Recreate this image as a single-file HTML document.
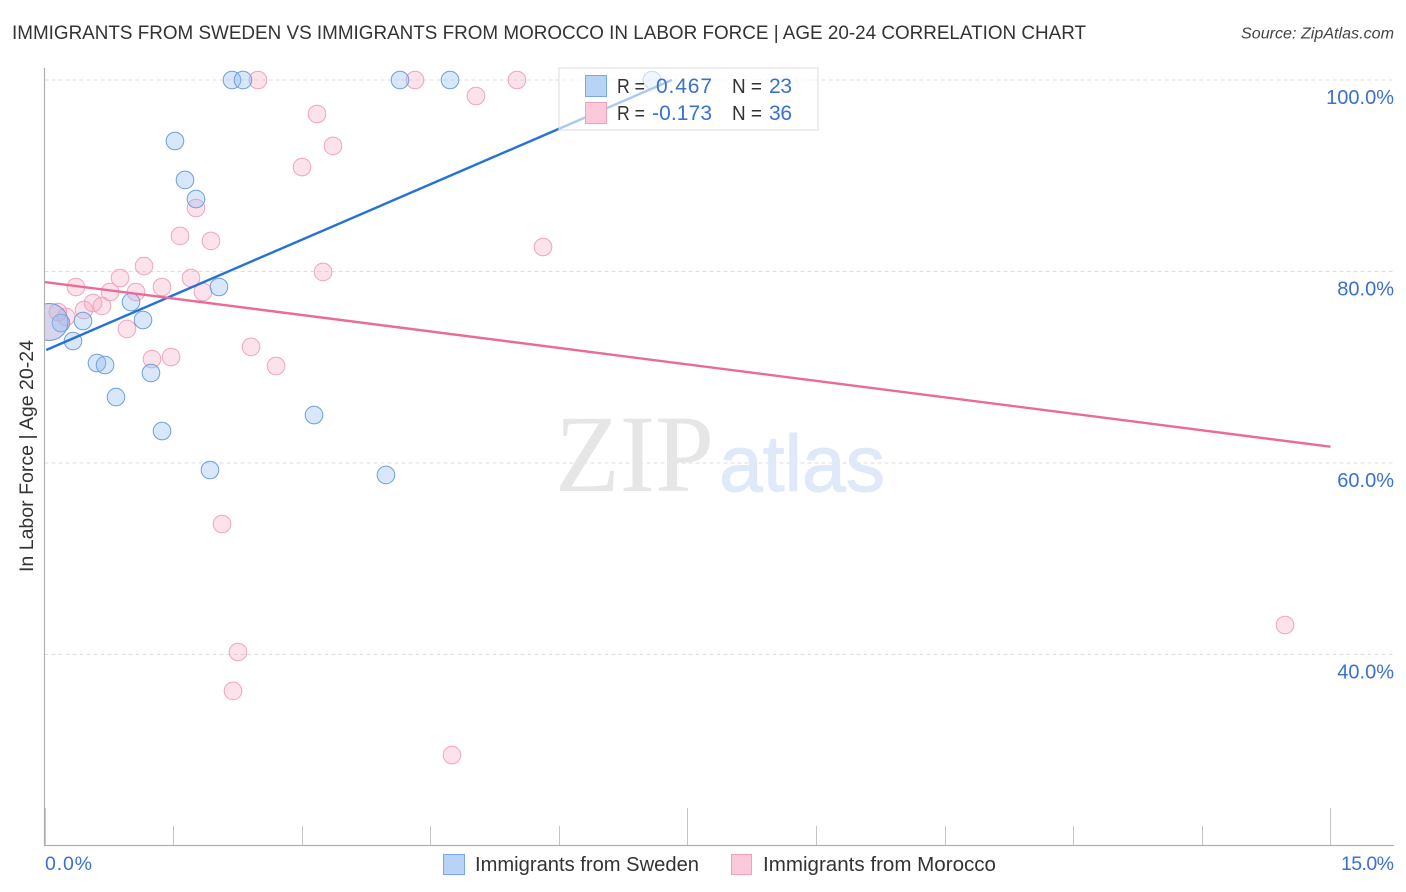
<!DOCTYPE html>
<html lang="en">
<head>
<meta charset="utf-8">
<title>Immigrants from Sweden vs Immigrants from Morocco correlation chart</title>
<style>
html,body{margin:0;padding:0;background:#fff;width:1406px;height:892px;overflow:hidden}
svg{display:block}
text{font-family:"Liberation Sans",sans-serif}
</style>
</head>
<body>
<svg id="chart" width="1406" height="892" viewBox="0 0 1406 892" xmlns="http://www.w3.org/2000/svg">
  <defs><clipPath id="plot-clip"><rect x="44.5" y="60" width="1350" height="785.5"/></clipPath></defs>
  <text x="12" y="39" font-size="19.5" fill="#333" textLength="1074" lengthAdjust="spacingAndGlyphs">IMMIGRANTS FROM SWEDEN VS IMMIGRANTS FROM MOROCCO IN LABOR FORCE | AGE 20-24 CORRELATION CHART</text>
  <text x="1241" y="38.5" font-size="15.5" font-style="italic" fill="#444" textLength="153" lengthAdjust="spacingAndGlyphs">Source: ZipAtlas.com</text>
  <g id="grid"></g>
  <g>
    <text x="555" y="491" font-size="110" fill="#e6e6e6" style="font-family:'Liberation Serif',serif" textLength="159" lengthAdjust="spacingAndGlyphs">ZIP</text>
    <text x="719" y="491" font-size="80" fill="#dfe9f9" stroke="#dfe9f9" stroke-width="1" textLength="166" lengthAdjust="spacingAndGlyphs">atlas</text>
  </g>
  <g id="points" clip-path="url(#plot-clip)"></g>
  <g id="trends"></g>
  <g id="axes"></g>
  <text transform="translate(33,456) rotate(-90)" font-size="19" fill="#333" text-anchor="middle" textLength="232" lengthAdjust="spacingAndGlyphs">In Labor Force | Age 20-24</text>
  <g>
    <rect x="559" y="68" width="259" height="62" fill="#fff" fill-opacity="0.62" stroke="#dcdcdc" stroke-width="1"/>
    <rect x="585.5" y="75.5" width="21" height="21" fill="#b9d3f7" stroke="#78a8e8"/>
    <rect x="585.5" y="102.5" width="21" height="21" fill="#fbc9d9" stroke="#f4a0bb"/>
    <text x="617" y="93" font-size="20" fill="#333" textLength="28" lengthAdjust="spacingAndGlyphs">R =</text>
    <text x="656" y="93" font-size="21" fill="#3a70cf" textLength="56">0.467</text>
    <text x="732" y="93" font-size="20" fill="#333" textLength="30" lengthAdjust="spacingAndGlyphs">N =</text>
    <text x="769" y="93" font-size="21" fill="#3a70cf" textLength="23">23</text>
    <text x="617" y="120" font-size="20" fill="#333" textLength="28" lengthAdjust="spacingAndGlyphs">R =</text>
    <text x="652" y="120" font-size="21" fill="#3a70cf" textLength="60">-0.173</text>
    <text x="732" y="120" font-size="20" fill="#333" textLength="30" lengthAdjust="spacingAndGlyphs">N =</text>
    <text x="769" y="120" font-size="21" fill="#3a70cf" textLength="23">36</text>
  </g>
  <g>
    <rect x="443.5" y="854.5" width="21" height="20" fill="#b9d3f7" stroke="#78a8e8"/>
    <text x="475" y="871" font-size="20" fill="#333" textLength="224" lengthAdjust="spacingAndGlyphs">Immigrants from Sweden</text>
    <rect x="731.5" y="854.5" width="20" height="20" fill="#fbc9d9" stroke="#f4a0bb"/>
    <text x="763" y="871" font-size="20" fill="#333" textLength="233" lengthAdjust="spacingAndGlyphs">Immigrants from Morocco</text>
  </g>
</svg>
<script>
const xTickValues = [0, 1.5, 3, 4.5, 6, 7.5, 9, 10.5, 12, 13.5, 15];
const xMajorTicks = [0, 7.5, 15];
const xLabelValues = ['0.0%', '15.0%'];
const yTickValues = [100, 80, 60, 40];
const yTickLabels = ['100.0%', '80.0%', '60.0%', '40.0%'];

const swedenX = [2.187, 2.315, 4.147, 4.730, 7.086, 1.522, 1.639, 1.767, 2.035, 1.009, 1.149, 0.449, 0.192, 0.332, 0.612, 0.706, 1.242, 0.834, 1.371, 1.930, 3.144, 3.983, 0.058];
const swedenY = [100, 100, 100, 100, 100, 93.63, 89.56, 87.57, 78.38, 76.81, 74.93, 74.83, 74.62, 72.74, 70.44, 70.23, 69.40, 66.89, 63.34, 59.27, 65.01, 58.75, 74.73];
const swedenWeight = [1, 1, 1, 1, 1, 1, 1, 1, 1, 1, 1, 1, 1, 1, 1, 1, 1, 1, 1, 1, 1, 1, 2.1];

const moroccoX = [2.490, 4.322, 5.511, 5.033, 3.179, 3.365, 3.004, 1.767, 1.581, 1.942, 5.815, 1.161, 3.249, 0.881, 1.709, 0.367, 1.371, 0.764, 1.067, 1.849, 0.566, 0.671, 0.461, 0.157, 0.251, 0.962, 2.409, 1.254, 1.476, 2.701, 2.071, 2.257, 2.199, 4.753, 14.470, 0.058];
const moroccoY = [100, 100, 100, 98.33, 96.45, 93.11, 90.91, 86.63, 83.71, 83.19, 82.56, 80.57, 79.95, 79.32, 79.32, 78.38, 78.38, 77.86, 77.86, 77.86, 76.71, 76.40, 75.98, 75.77, 75.25, 74.00, 72.12, 70.86, 71.07, 70.13, 53.63, 40.26, 36.19, 29.50, 43.08, 74.73];
const moroccoWeight = [1, 1, 1, 1, 1, 1, 1, 1, 1, 1, 1, 1, 1, 1, 1, 1, 1, 1, 1, 1, 1, 1, 1, 1, 1, 1, 1, 1, 1, 1, 1, 1, 1, 1, 1, 2.1];

const swedenTrendX = [0.02, 7.32];
const swedenTrendY = [71.8, 100];
const moroccoTrendX = [0, 15];
const moroccoTrendY = [78.9, 61.7];

function xScale(v) { return 44.5 + v * 85.73; }
function yScale(v) { return 80 + (100 - v) * 9.575; }
function rScale(w) { return 8.8 * w; }

const NS = 'http://www.w3.org/2000/svg';
function make(tag, attrs, parent) {
  const el = document.createElementNS(NS, tag);
  for (const k in attrs) el.setAttribute(k, attrs[k]);
  parent.appendChild(el);
  return el;
}

const grid = document.getElementById('grid');
yTickValues.forEach(function (v) {
  const l = make('line', {x1: 44.5, x2: 1394, y1: yScale(v), y2: yScale(v), stroke: '#dedede', 'stroke-width': 1, 'stroke-dasharray': '4 3'}, grid);
  
  
});

const points = document.getElementById('points');
moroccoX.forEach(function (x, i) {
  const c = make('circle', {cx: xScale(x), cy: yScale(moroccoY[i]), r: rScale(moroccoWeight[i]), fill: '#f7a8c2', 'fill-opacity': 0.32, stroke: '#f2a3bd', 'stroke-width': 1}, points);
  
  
});
swedenX.forEach(function (x, i) {
  const c = make('circle', {cx: xScale(x), cy: yScale(swedenY[i]), r: rScale(swedenWeight[i]), fill: '#93bcf0', 'fill-opacity': 0.36, stroke: '#6c9fe0', 'stroke-width': 1}, points);
  
  
});

const trends = document.getElementById('trends');
const t1 = make('line', {x1: xScale(swedenTrendX[0]), y1: yScale(swedenTrendY[0]), x2: xScale(swedenTrendX[1]), y2: yScale(swedenTrendY[1]), stroke: '#2471d8', 'stroke-width': 2.4}, trends);


const t2 = make('line', {x1: xScale(moroccoTrendX[0]), y1: yScale(moroccoTrendY[0]), x2: xScale(moroccoTrendX[1]), y2: yScale(moroccoTrendY[1]), stroke: '#ea6a9a', 'stroke-width': 2.4}, trends);



const axes = document.getElementById('axes');
const yAxis = make('line', {x1: 44.5, x2: 44.5, y1: 68, y2: 846, stroke: '#b0b0b0', 'stroke-width': 1.2}, axes);


const xAxis = make('line', {x1: 44, x2: 1394, y1: 845.5, y2: 845.5, stroke: '#b0b0b0', 'stroke-width': 1.2}, axes);


xTickValues.forEach(function (v) {
  const top = xMajorTicks.indexOf(v) >= 0 ? 808 : 826;
  const t = make('line', {x1: Math.round(xScale(v)) + 0.5, x2: Math.round(xScale(v)) + 0.5, y1: top, y2: 845, stroke: '#c4c4c4', 'stroke-width': 1}, axes);
  
  
});
const xl0 = make('text', {x: 45, y: 870, 'font-size': 19.5, fill: '#3a70cf', textLength: 47}, axes);


xl0.textContent = xLabelValues[0];
const xl1 = make('text', {x: 1341, y: 870, 'font-size': 19.5, fill: '#3a70cf', textLength: 53}, axes);


xl1.textContent = xLabelValues[1];
yTickValues.forEach(function (v, i) {
  const t = make('text', {x: 1394, y: yScale(v) + 24, 'font-size': 20, fill: '#3a70cf', 'text-anchor': 'end'}, axes);
  
  
  t.textContent = yTickLabels[i];
});
</script>
</body>
</html>
